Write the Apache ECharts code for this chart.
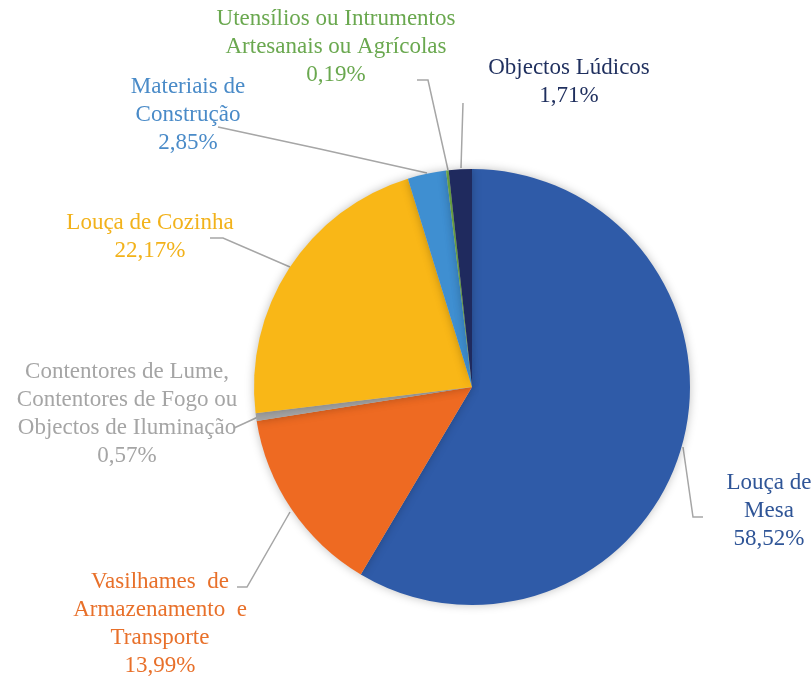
<!DOCTYPE html>
<html>
<head>
<meta charset="utf-8">
<script src="https://cdn.jsdelivr.net/npm/echarts@6/dist/echarts.min.js"></script>
<style>html,body{margin:0;padding:0;background:#fff;}#c{width:811px;height:677px;}</style>
</head>
<body>
<div id="c"></div>
<script>
// Data
var categories = [
  'Louça de\nMesa',
  'Vasilhames  de\nArmazenamento  e\nTransporte',
  'Contentores de Lume,\nContentores de Fogo ou\nObjectos de Iluminação',
  'Louça de Cozinha',
  'Materiais de\nConstrução',
  'Utensílios ou Intrumentos\nArtesanais ou Agrícolas',
  'Objectos Lúdicos'
];
var values = [58.52, 13.99, 0.57, 22.17, 2.85, 0.19, 1.71];

// Styles
var sliceColors = ['#2F5BA8', '#EE6A22', '#A5A5A5', '#F9B717', '#3F8FD1', '#70AD47', '#1F2A5E'];
var textColors  = ['#2F5597', '#E8702A', '#A5A5A5', '#F2B21B', '#4A8BC8', '#6AA84F', '#1F2F5E'];
// label layout: [centerX, middleY] and leader line points
var labelPos = [
  [769, 511], [160, 624], [127, 414], [150, 237], [188, 115], [336, 47], [569, 82]
];
var linePts = [
  [[683, 447], [693, 517], [703, 517]],
  [[290, 512], [247, 587], [237, 587]],
  [[258, 417], [245, 423], [234, 428]],
  [[290, 267], [223, 238], [210, 238]],
  [[427, 173], [320, 149], [218, 127]],
  [[448, 170], [428, 80], [417, 80]],
  [[461, 168], [462, 135], [463, 103]]
];

var data = categories.map(function (c, i) {
  return {
    name: c,
    value: values[i],
    itemStyle: { color: sliceColors[i] },
    label: { color: textColors[i] }
  };
});

var chart = echarts.init(document.getElementById('c'), null, { renderer: 'canvas' });
chart.setOption({
  animation: false,
  backgroundColor: '#ffffff',
  series: [{
    type: 'pie',
    center: [472, 387],
    radius: 218,
    startAngle: 90,
    clockwise: true,
    data: data,
    itemStyle: {
      borderWidth: 0,
      shadowBlur: 10,
      shadowColor: 'rgba(0,0,0,0.25)'
    },
    label: {
      show: true,
      position: 'outside',
      fontFamily: 'Liberation Serif',
      fontSize: 23,
      lineHeight: 28,
      align: 'center',
      formatter: function (p) {
        return p.name + '\n' + p.value.toFixed(2).replace('.', ',') + '%';
      }
    },
    labelLine: {
      show: true,
      length: 10,
      length2: 10,
      lineStyle: { color: '#A6A6A6', width: 1.5 }
    },
    labelLayout: function (params) {
      var i = params.dataIndex;
      return {
        x: labelPos[i][0],
        y: labelPos[i][1],
        align: 'center',
        verticalAlign: 'middle',
        labelLinePoints: linePts[i]
      };
    }
  }]
});
</script>
</body>
</html>
